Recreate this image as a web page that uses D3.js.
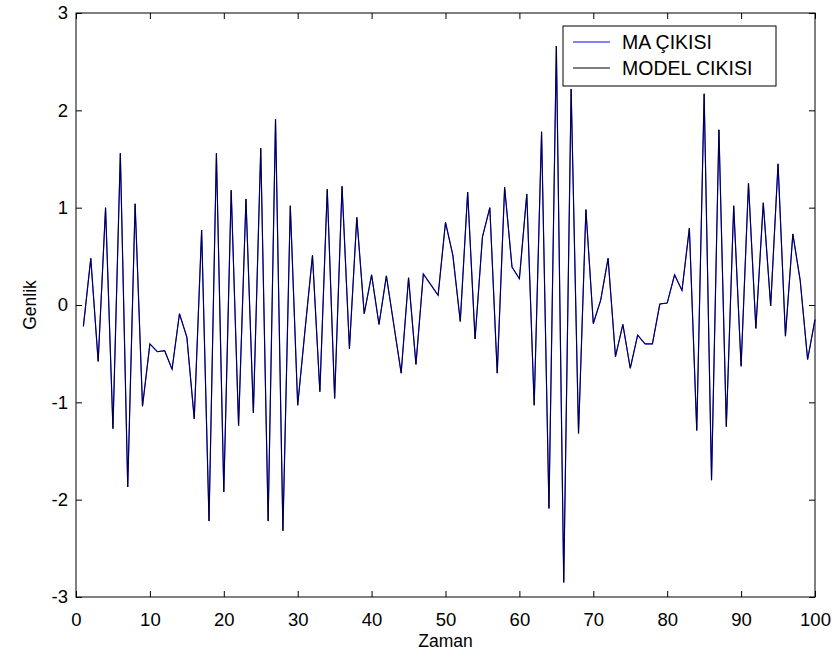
<!DOCTYPE html>
<html>
<head>
<meta charset="utf-8">
<script src="https://cdn.jsdelivr.net/npm/d3@7"></script>
<style>
  body { margin: 0; background: #fff; }
  svg text { font-family: "Liberation Sans", Arial, Helvetica, sans-serif; fill: #000; }
</style>
</head>
<body>
<svg id="chart" width="837" height="660"></svg>
<script>
// zaman ekseni: 1..100
const zaman = d3.range(1, 101)

// MA cikisi (okunan degerler)
const maCikisi = [
  -0.22, 0.48, -0.58, 1.00, -1.27, 1.56, -1.87, 1.04, -1.04, -0.40,
  -0.48, -0.47, -0.66, -0.09, -0.33, -1.17, 0.77, -2.22, 1.56, -1.92,
  1.18, -1.24, 1.09, -1.11, 1.61, -2.22, 1.91, -2.32, 1.02, -1.03,
  -0.25, 0.51, -0.89, 1.19, -0.96, 1.22, -0.45, 0.90, -0.09, 0.31,
  -0.20, 0.30, -0.20, -0.70, 0.28, -0.61, 0.32, 0.21, 0.10, 0.85,
  0.51, -0.17, 1.16, -0.35, 0.70, 1.00, -0.70, 1.21, 0.39, 0.27,
  1.14, -1.03, 1.78, -2.09, 2.66, -2.85, 2.22, -1.32, 0.98, -0.19,
  0.05, 0.48, -0.53, -0.20, -0.65, -0.31, -0.40, -0.40, 0.01, 0.02,
  0.31, 0.15, 0.79, -1.29, 2.17, -1.80, 1.80, -1.25, 1.02, -0.63,
  1.25, -0.24, 1.05, -0.01, 1.45, -0.32, 0.73, 0.25, -0.56, -0.15
]

// model cikisi - gorselde MA ile ust uste
const modelCikisi = maCikisi.slice()

const xTicks = d3.range(0, 101, 10)
const yTicks = d3.range(-3, 4, 1)
const legendLabels = ["MA ÇIKISI", "MODEL CIKISI"]
const seriesColors = ["#0000ff", "#000000"]

const svg = d3.select("#chart")
const margin = {left: 76, right: 22, top: 13, bottom: 63}
const W = 837, H = 660
const x = d3.scaleLinear().domain([0, 100]).range([margin.left, W - margin.right])
const y = d3.scaleLinear().domain([-3, 3]).range([H - margin.bottom, margin.top])

const tickLen = 6
const fmt = (d) => String(d)   // matlab tarzi: duz tire

// kutu
svg.append("rect")
  .attr("x", x(0)).attr("y", y(3))
  .attr("width", x(100) - x(0)).attr("height", y(-3) - y(3))
  .attr("fill", "none").attr("stroke", "#000").attr("stroke-width", 1)

// alt eksen
let xAxis = svg.append("g")
  .attr("transform", "translate(0," + y(-3) + ")")
  .call(d3.axisBottom(x).tickValues(xTicks).tickSize(-tickLen).tickPadding(16).tickFormat(fmt))
xAxis.select(".domain").remove()
xAxis.selectAll("text").style("font-size", "18.5px")

// ust eksen tikleri
let xTop = svg.append("g")
  .attr("transform", "translate(0," + y(3) + ")")
  .call(d3.axisTop(x).tickValues(xTicks).tickSize(-tickLen).tickFormat(""))
xTop.select(".domain").remove()

// sol eksen
let yAxis = svg.append("g")
  .attr("transform", "translate(" + x(0) + ",0)")
  .call(d3.axisLeft(y).tickValues(yTicks).tickSize(-tickLen).tickPadding(8).tickFormat(fmt))
yAxis.select(".domain").remove()
yAxis.selectAll("text").style("font-size", "18.5px")

// sag eksen tikleri
let yRight = svg.append("g")
  .attr("transform", "translate(" + x(100) + ",0)")
  .call(d3.axisRight(y).tickValues(yTicks).tickSize(-tickLen).tickFormat(""))
yRight.select(".domain").remove()

svg.selectAll(".tick line").attr("stroke", "#000")

// eksen basliklari
svg.append("text")
  .attr("x", (x(0) + x(100)) / 2).attr("y", 647)
  .attr("text-anchor", "middle").style("font-size", "17.5px")
  .text("Zaman")

svg.append("text")
  .attr("transform", "translate(36," + y(0) + ") rotate(-90)")
  .attr("text-anchor", "middle").style("font-size", "17.5px")
  .text("Genlik")

// cizgiler
const line = d3.line()
  .x((d, i) => x(zaman[i]))
  .y(d => y(d))

svg.append("path")
  .datum(maCikisi)
  .attr("d", line)
  .attr("fill", "none")
  .attr("stroke", seriesColors[0])
  .attr("stroke-width", 1.2)

svg.append("path")
  .datum(modelCikisi)
  .attr("d", line)
  .attr("fill", "none")
  .attr("stroke", seriesColors[1])
  .attr("stroke-width", 1)
  .attr("stroke-opacity", 0.75)

// lejant
const lg = svg.append("g").attr("transform", "translate(563,26)")
lg.append("rect")
  .attr("width", 213).attr("height", 60)
  .attr("fill", "#fff").attr("stroke", "#000").attr("stroke-width", 1)

legendLabels.forEach((lab, i) => {
  let yy = 16 + i * 26
  lg.append("line")
    .attr("x1", 10).attr("x2", 47).attr("y1", yy).attr("y2", yy)
    .attr("stroke", seriesColors[i]).attr("stroke-width", 1)
  lg.append("text")
    .attr("x", 59).attr("y", yy + 7)
    .style("font-size", "19.5px")
    .text(lab)
})
</script>
</body>
</html>
